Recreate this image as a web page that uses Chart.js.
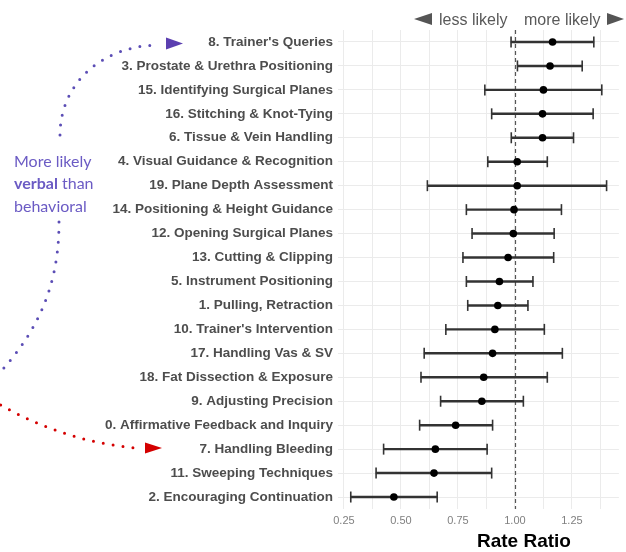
<!DOCTYPE html>
<html>
<head>
<meta charset="utf-8">
<script src="https://cdn.jsdelivr.net/npm/chart.js@4"></script>
<style>
  body { margin: 0; background: #fff; }
  #wrap { position: relative; width: 626px; height: 552px; overflow: hidden; }
  #chart { position: absolute; left: 0; top: 0; }
  #arrows { position: absolute; left: 0; top: 0; }
  .side { position: absolute; font-family: 'Liberation Sans', Arial, sans-serif; font-size: 16px; line-height: 16px; color: #595959; white-space: nowrap; }
  .tri { position: absolute; width: 0; height: 0; border-top: 6.5px solid transparent; border-bottom: 6.5px solid transparent; }
  #note { position: absolute; left: 14px; top: 150px; font-family: Lato, sans-serif; font-size: 16px; line-height: 22.3px; color: #6b5bc4; }
  #xtitle { position: absolute; left: 477px; top: 531px; font-family: 'Liberation Sans', Arial, sans-serif; font-weight: bold; font-size: 19px; line-height: 19px; color: #000; white-space: nowrap; }
</style>
</head>
<body>
<div id="wrap">
  <canvas id="chart" width="626" height="552"></canvas>

  <svg id="arrows" width="626" height="552">
    <g fill="none" stroke-width="3" stroke-linecap="round" stroke-dasharray="0 10">
      <path d="M60,135 C60,85 100,46 158,45" stroke="#5b4db5"/>
      <path d="M59,222 C59,290 35,335 -5,378" stroke="#5b4db5"/>
      <path d="M-8,400 Q60,441 136,448" stroke="#d40000"/>
    </g>
    <polygon points="166,37.5 166,49.5 183,43.5" fill="#5b3fb0"/>
    <polygon points="145,442.5 145,453.5 162,448" fill="#d40000"/>
  </svg>

  <div class="tri" style="left:414px; top:12.5px; border-right:18px solid #555;"></div>
  <div class="side" style="left:439px; top:11.5px;">less likely</div>
  <div class="side" style="left:524px; top:11.5px;">more likely</div>
  <div class="tri" style="left:607px; top:12.5px; border-left:17px solid #555;"></div>

  <div id="note">More likely<br><b>verbal</b> than<br>behavioral</div>
  <div id="xtitle">Rate Ratio</div>
</div>

<script>
// Categories, top to bottom
const categories = [
    "8. Trainer's Queries",
    "3. Prostate & Urethra Positioning",
    "15. Identifying Surgical Planes",
    "16. Stitching & Knot-Tying",
    "6. Tissue & Vein Handling",
    "4. Visual Guidance & Recognition",
    "19. Plane Depth Assessment",
    "14. Positioning & Height Guidance",
    "12. Opening Surgical Planes",
    "13. Cutting & Clipping",
    "5. Instrument Positioning",
    "1. Pulling, Retraction",
    "10. Trainer's Intervention",
    "17. Handling Vas & SV",
    "18. Fat Dissection & Exposure",
    "9. Adjusting Precision",
    "0. Affirmative Feedback and Inquiry",
    "7. Handling Bleeding",
    "11. Sweeping Techniques",
    "2. Encouraging Continuation"
];

// Rate ratio estimates and confidence limits
const estimate = [1.165, 1.154, 1.125, 1.121, 1.121, 1.010, 1.010, 0.996, 0.993, 0.970,
                  0.932, 0.925, 0.912, 0.902, 0.863, 0.855, 0.740, 0.651, 0.645, 0.469];
const lower = [0.983, 1.011, 0.868, 0.898, 0.984, 0.881, 0.616, 0.787, 0.812, 0.772,
               0.787, 0.793, 0.697, 0.602, 0.588, 0.674, 0.582, 0.424, 0.391, 0.280];
const upper = [1.346, 1.295, 1.381, 1.343, 1.257, 1.142, 1.402, 1.204, 1.172, 1.170,
               1.079, 1.057, 1.129, 1.208, 1.142, 1.037, 0.902, 0.878, 0.898, 0.659];

// Axis
const tickValues = [0.25, 0.5, 0.75, 1.0, 1.25];
const gridValues = [0.25, 0.375, 0.5, 0.625, 0.75, 0.875, 1.0, 1.125, 1.25, 1.375];
const xMin = 0.224;
const xMax = 1.456;
const refValue = 1.0;

// Dashed reference line at rate ratio = 1
const refLine = {
    id: 'refLine',
    beforeDatasetsDraw(chart) {
        const { ctx, chartArea, scales } = chart;
        const x = Math.round(scales.x.getPixelForValue(refValue)) + 0.5;
        ctx.save();
        ctx.strokeStyle = '#555';
        ctx.lineWidth = 1.2;
        ctx.setLineDash([4, 3]);
        ctx.beginPath();
        ctx.moveTo(x, chartArea.top);
        ctx.lineTo(x, chartArea.bottom);
        ctx.stroke();
        ctx.restore();
    }
};

new Chart(document.getElementById('chart'), {
    type: 'bar',
    data: {
        labels: categories,
        datasets: [
            {
                // whisker lines
                type: 'bar',
                indexAxis: 'y',
                data: lower.map((l, i) => [l, upper[i]]),
                backgroundColor: '#333',
                barThickness: 1.8,
                order: 3
            },
            {
                type: 'line',
                indexAxis: 'y',
                data: lower,
                showLine: false,
                pointStyle: 'line',
                rotation: 90,
                pointRadius: 5.5,
                pointBorderColor: '#333',
                pointBorderWidth: 1.6,
                order: 2
            },
            {
                type: 'line',
                indexAxis: 'y',
                data: upper,
                showLine: false,
                pointStyle: 'line',
                rotation: 90,
                pointRadius: 5.5,
                pointBorderColor: '#333',
                pointBorderWidth: 1.6,
                order: 2
            },
            {
                type: 'line',
                indexAxis: 'y',
                data: estimate,
                showLine: false,
                pointStyle: 'circle',
                pointRadius: 3.8,
                pointBackgroundColor: '#000',
                pointBorderColor: '#000',
                pointBorderWidth: 0,
                order: 1
            }
        ]
    },
    options: {
        indexAxis: 'y',
        responsive: false,
        animation: false,
        events: [],
        layout: { padding: { top: 30, right: 4, left: 0, bottom: 0 } },
        plugins: {
            legend: { display: false },
            tooltip: { enabled: false }
        },
        scales: {
            x: {
                type: 'linear',
                min: xMin,
                max: xMax,
                afterBuildTicks: scale => {
                    scale.ticks = gridValues.map(v => ({ value: v }));
                },
                afterFit: scale => { scale.height = 43; },
                ticks: {
                    autoSkip: false,
                    maxRotation: 0,
                    padding: 5,
                    color: '#808080',
                    font: { family: 'Liberation Sans', size: 11 },
                    callback: value => tickValues.includes(value) ? value.toFixed(2) : ''
                },
                grid: { color: '#ebebeb', lineWidth: 1, drawTicks: false },
                border: { display: false }
            },
            y: {
                type: 'category',
                afterFit: scale => { scale.width = 338; },
                ticks: {
                    padding: 5,
                    color: '#4d4d4d',
                    font: { family: 'Liberation Sans', size: 13.5, weight: 'bold' }
                },
                grid: { color: '#ebebeb', lineWidth: 1, drawTicks: false, offset: false },
                border: { display: false }
            }
        }
    },
    plugins: [refLine]
});
</script>
</body>
</html>
